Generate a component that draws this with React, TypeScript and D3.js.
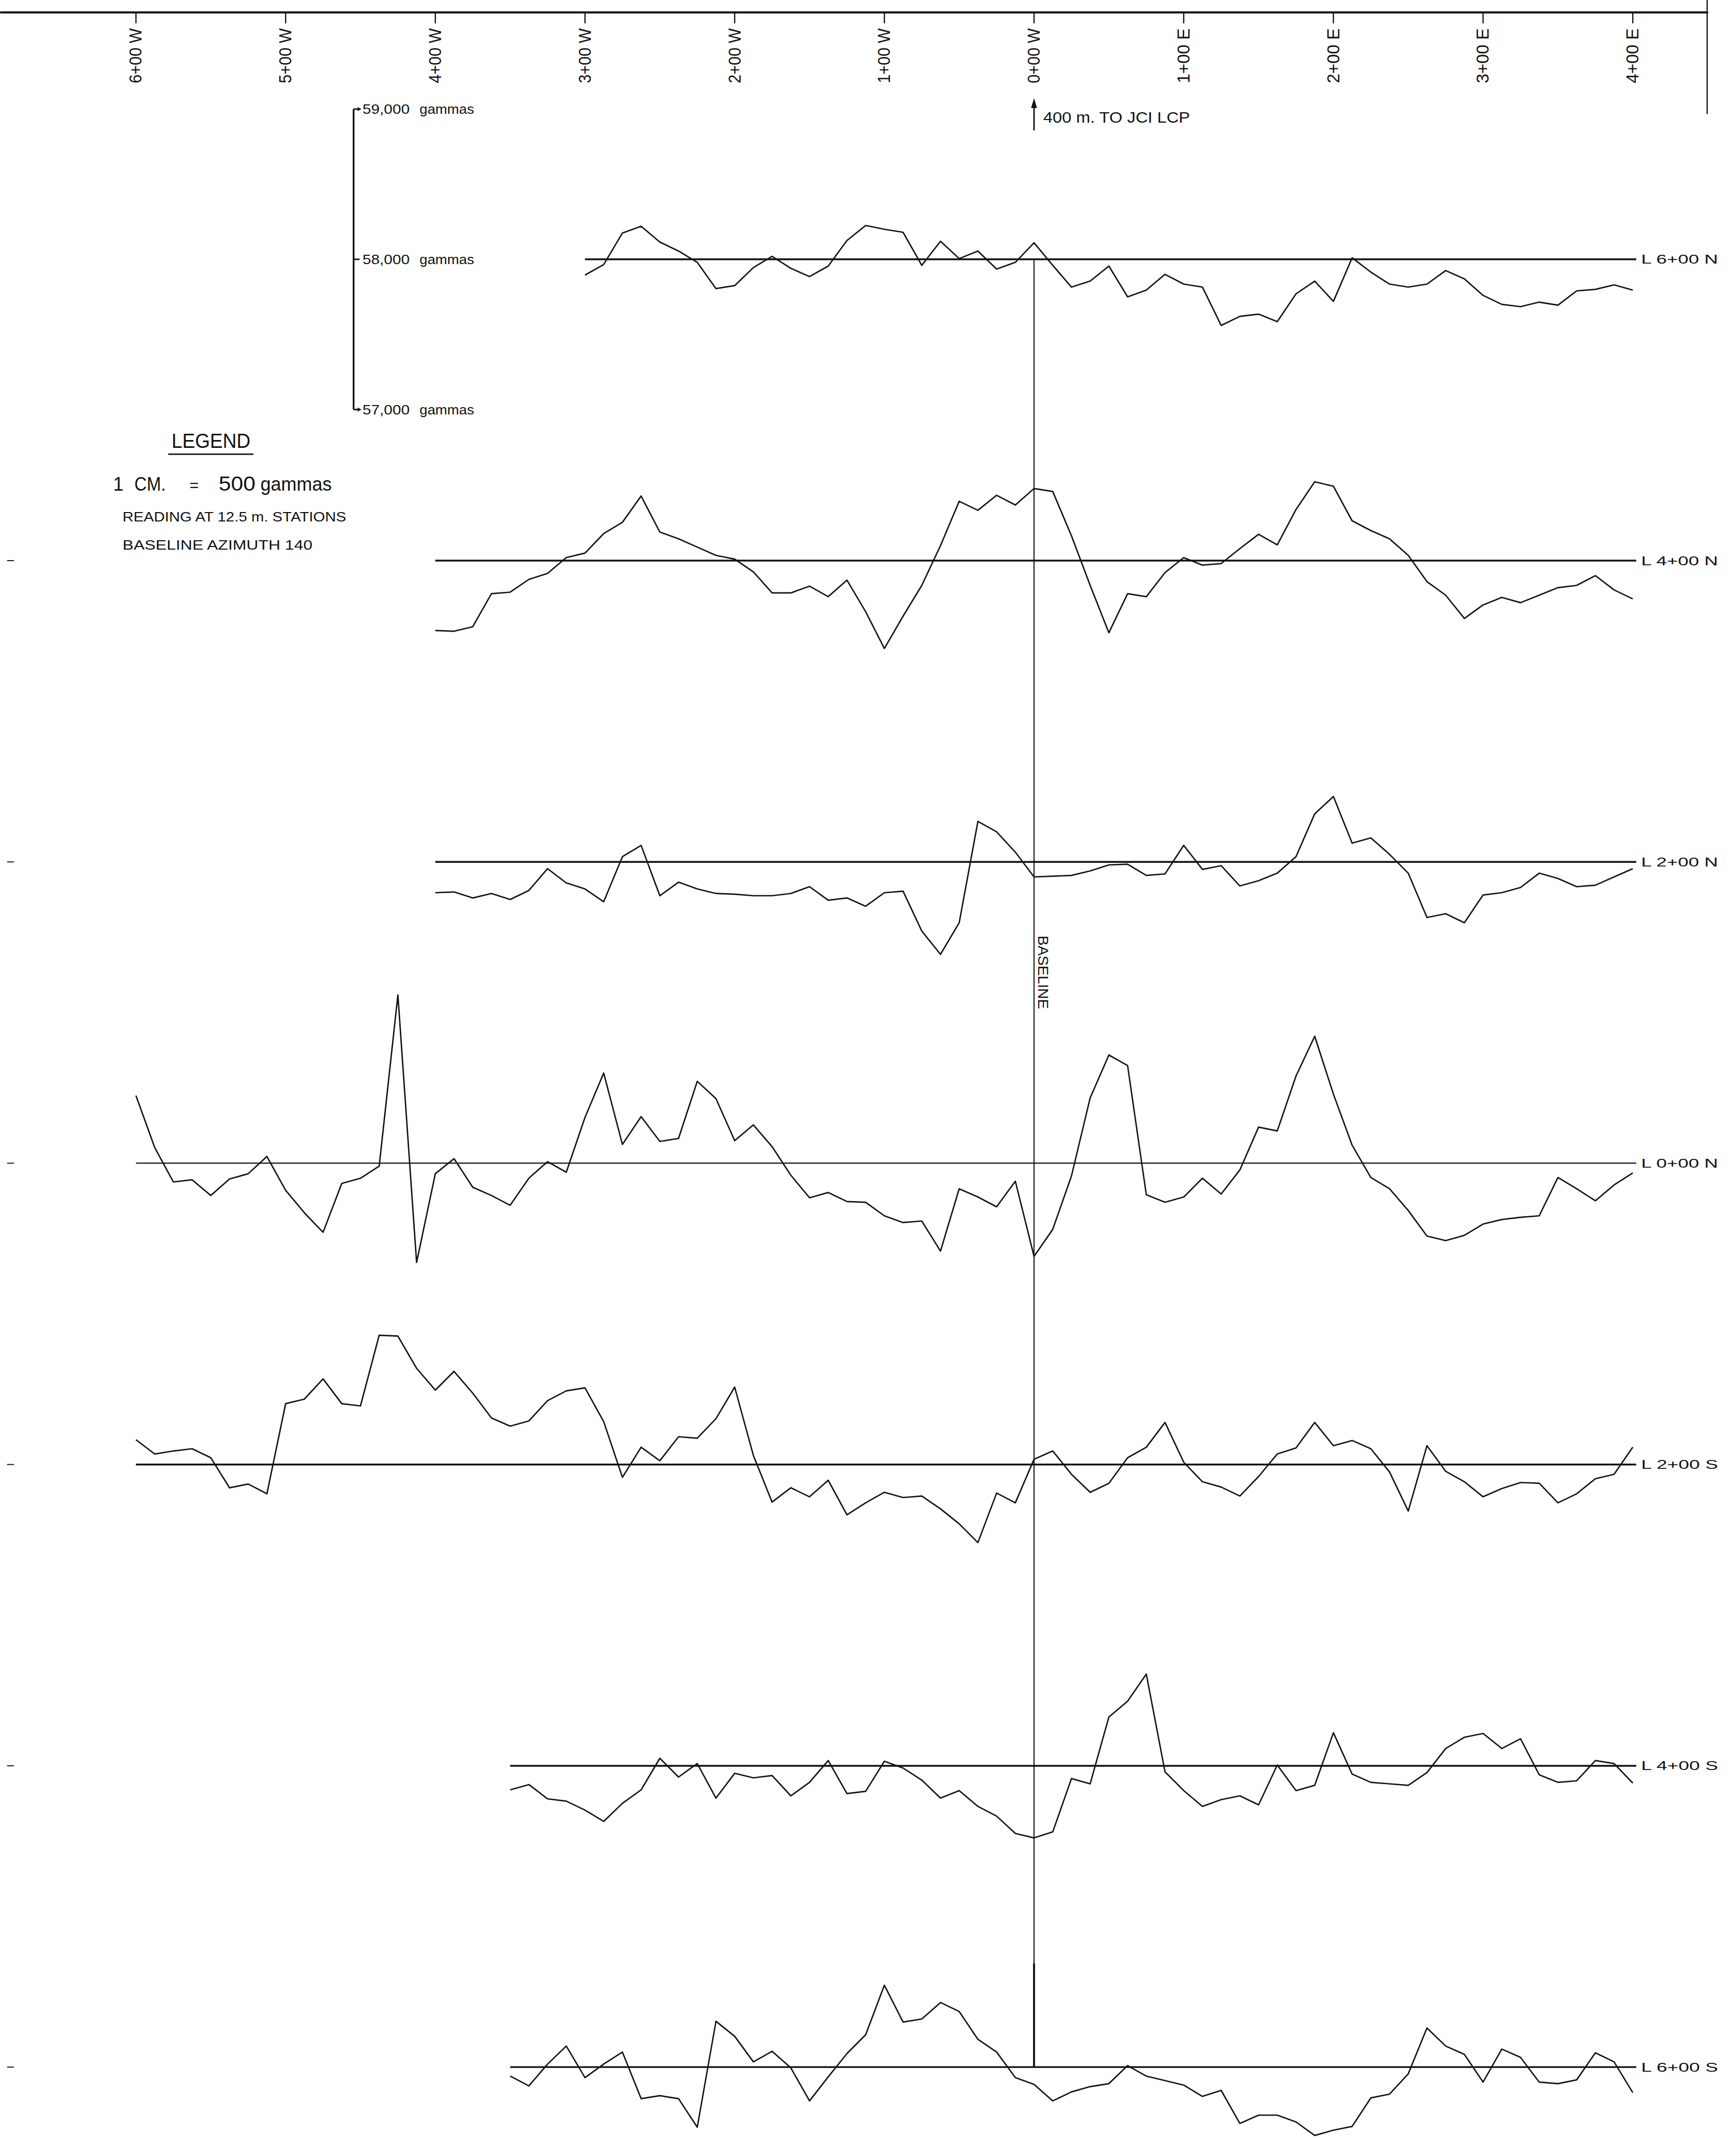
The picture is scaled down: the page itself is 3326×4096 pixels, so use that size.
import * as d3 from "d3";

// station chainage in metres, west negative; readings every 12.5 m
const STEP = 12.5;
const TICK_STATIONS = [-600, -500, -400, -300, -200, -100, 0, 100, 200, 300, 400];
const TICK_LABELS = ["6+00 W", "5+00 W", "4+00 W", "3+00 W", "2+00 W", "1+00 W", "0+00 W", "1+00 E", "2+00 E", "3+00 E", "4+00 E"];

const LINE_NAMES = ["L 6+00 N", "L 4+00 N", "L 2+00 N", "L 0+00 N", "L 2+00 S", "L 4+00 S", "L 6+00 S"];
const LINE_STARTS = [-300, -400, -400, -600, -600, -350, -350];

// total field, gammas (baseline of each line = 58,000)
const L6N = [57895, 57965, 58175, 58220, 58115, 58055, 57980, 57805, 57825, 57945, 58020, 57940, 57885, 57955, 58125, 58225, 58200, 58180, 57960, 58120, 58005, 58055, 57935, 57980, 58110, 57960, 57815, 57855, 57955, 57750, 57795, 57900, 57835, 57815, 57560, 57620, 57635, 57585, 57770, 57855, 57720, 58010, 57915, 57835, 57815, 57835, 57925, 57870, 57760, 57700, 57685, 57715, 57695, 57790, 57800, 57830, 57795];
const L4N = [57535, 57530, 57560, 57780, 57790, 57875, 57915, 58020, 58050, 58180, 58255, 58430, 58190, 58145, 58090, 58035, 58010, 57925, 57785, 57785, 57830, 57760, 57870, 57660, 57415, 57630, 57835, 58100, 58395, 58335, 58435, 58370, 58480, 58460, 58165, 57835, 57520, 57780, 57760, 57920, 58020, 57970, 57980, 58080, 58175, 58105, 58340, 58525, 58495, 58265, 58200, 58145, 58035, 57860, 57770, 57615, 57705, 57755, 57720, 57770, 57820, 57835, 57900, 57805, 57745];
const L2N = [57795, 57800, 57760, 57790, 57750, 57810, 57955, 57860, 57820, 57735, 58035, 58110, 57775, 57865, 57820, 57790, 57785, 57775, 57775, 57790, 57835, 57745, 57760, 57705, 57795, 57805, 57540, 57385, 57595, 58270, 58200, 58065, 57900, 57905, 57910, 57940, 57980, 57985, 57910, 57920, 58110, 57950, 57975, 57840, 57875, 57925, 58035, 58320, 58435, 58125, 58160, 58050, 57925, 57630, 57655, 57595, 57780, 57795, 57830, 57925, 57890, 57835, 57845, 57900, 57955];
const L0N = [58450, 58105, 57875, 57890, 57785, 57895, 57930, 58045, 57820, 57670, 57540, 57865, 57900, 57980, 59120, 57340, 57930, 58030, 57840, 57785, 57720, 57900, 58010, 57940, 58305, 58600, 58125, 58310, 58145, 58165, 58545, 58430, 58150, 58255, 58110, 57920, 57770, 57805, 57745, 57740, 57650, 57605, 57615, 57415, 57830, 57775, 57710, 57880, 57380, 57560, 57915, 58435, 58720, 58650, 57790, 57740, 57775, 57900, 57795, 57955, 58240, 58215, 58580, 58845, 58460, 58120, 57905, 57830, 57685, 57515, 57485, 57520, 57595, 57625, 57640, 57650, 57905, 57830, 57750, 57855, 57935];
const L2S = [58165, 58070, 58090, 58105, 58045, 57845, 57870, 57805, 58405, 58435, 58570, 58405, 58390, 58860, 58855, 58640, 58495, 58620, 58475, 58310, 58255, 58290, 58425, 58490, 58510, 58285, 57915, 58115, 58025, 58185, 58175, 58305, 58515, 58060, 57750, 57845, 57785, 57895, 57665, 57745, 57815, 57780, 57790, 57705, 57605, 57480, 57810, 57745, 58035, 58090, 57935, 57815, 57875, 58045, 58115, 58280, 58015, 57885, 57850, 57790, 57920, 58070, 58110, 58280, 58125, 58160, 58105, 57950, 57690, 58125, 57955, 57885, 57785, 57840, 57880, 57875, 57745, 57805, 57905, 57935, 58115];
const L4S = [57840, 57875, 57780, 57765, 57705, 57630, 57750, 57840, 58050, 57925, 58015, 57785, 57950, 57920, 57935, 57800, 57890, 58035, 57815, 57830, 58030, 57985, 57905, 57785, 57835, 57730, 57665, 57550, 57520, 57560, 57915, 57880, 58325, 58430, 58610, 57960, 57835, 57730, 57775, 57800, 57740, 58005, 57835, 57870, 58220, 57945, 57890, 57880, 57870, 57955, 58115, 58190, 58215, 58115, 58180, 57940, 57890, 57900, 58035, 58015, 57885];
const L6S = [57940, 57875, 58020, 58140, 57930, 58020, 58100, 57790, 57810, 57790, 57600, 58305, 58205, 58035, 58105, 57995, 57775, 57935, 58090, 58215, 58545, 58300, 58320, 58430, 58370, 58185, 58100, 57930, 57885, 57775, 57835, 57870, 57890, 58010, 57940, 57910, 57880, 57805, 57845, 57625, 57680, 57680, 57635, 57545, 57580, 57605, 57795, 57820, 57955, 58260, 58140, 58085, 57900, 58120, 58065, 57900, 57890, 57915, 58095, 58035, 57830];

const LINE_VALUES = [L6N, L4N, L2N, L0N, L2S, L4S, L6S];

const SCALE_VALUES = [59000, 58000, 57000];
const SCALE_LABELS = ["59,000", "58,000", "57,000"];

const W = 3501;
const H = 4312;
const FONT = "'Liberation Sans', Arial, sans-serif";
const INK = "#111";

export default function App() {
  const x = d3.scaleLinear().domain([-600, 400]).range([274, 3293]);
  const lineY = d3.scalePoint<string>().domain(LINE_NAMES).range([523, 4169]);
  // gamma offset from a line's baseline (58,000 on the baseline)
  const g = d3.scaleLinear().domain([57000, 59000]).range([303, -303]);

  const paths = LINE_NAMES.map((name, li) => {
    const base = lineY(name) ?? 0;
    const start = LINE_STARTS[li];
    const gen = d3
      .line<number>()
      .x((_, i) => x(start + i * STEP))
      .y((v) => base + g(v))
      .curve(d3.curveLinear);
    return { name, base, start, d: gen(LINE_VALUES[li]) ?? "" };
  });

  const x0 = x(0);
  const scaleX = 713;
  const scaleBase = lineY(LINE_NAMES[0]) ?? 0;

  return (
    <svg
      width={3326}
      height={4096}
      viewBox={`0 0 ${W} ${H}`}
      style={{ position: "absolute", left: 0, top: 0, background: "#fff", display: "block" }}
      fontFamily={FONT}
    >
      <rect width={W} height={H} fill="#fff" />

      {/* sheet edge */}
      <line x1={0} x2={3445} y1={25} y2={25} stroke={INK} strokeWidth={4} />
      <line x1={3443} x2={3443} y1={0} y2={230} stroke={INK} strokeWidth={2.5} />

      {/* station ticks */}
      {TICK_STATIONS.map((s, i) => (
        <g key={s}>
          <line x1={x(s)} x2={x(s)} y1={25} y2={47} stroke={INK} strokeWidth={2.5} />
          <text
            transform={`translate(${x(s)},168) rotate(-90)`}
            textAnchor="start"
            dominantBaseline="central"
            fontSize={34}
            textLength={111}
            lengthAdjust="spacingAndGlyphs"
            fill={INK}
          >
            {TICK_LABELS[i]}
          </text>
        </g>
      ))}

      {/* direction note */}
      <line x1={x0} x2={x0} y1={263} y2={212} stroke={INK} strokeWidth={3} />
      <path d={`M${x0},198 L${x0 - 6},218 L${x0 + 6},218 Z`} fill={INK} />
      <text x={2104} y={247} fontSize={31} fill={INK} textLength={296} lengthAdjust="spacingAndGlyphs">
        400 m. TO JCI LCP
      </text>

      {/* gamma scale bar */}
      <line
        x1={scaleX}
        x2={scaleX}
        y1={scaleBase + g(59000)}
        y2={scaleBase + g(57000)}
        stroke={INK}
        strokeWidth={3.5}
      />
      {SCALE_VALUES.map((v, i) => {
        const yy = scaleBase + g(v);
        return (
          <g key={v}>
            <line x1={scaleX} x2={scaleX + 12} y1={yy} y2={yy} stroke={INK} strokeWidth={3} />
            {i !== 1 && <path d={`M${scaleX + 16},${yy} L${scaleX + 8},${yy - 4} L${scaleX + 8},${yy + 4} Z`} fill={INK} />}
            <text x={scaleX + 18} y={yy + 10} fontSize={27} fill={INK} textLength={95} lengthAdjust="spacingAndGlyphs">
              {SCALE_LABELS[i]}
            </text>
            <text x={scaleX + 133} y={yy + 10} fontSize={27} fill={INK} textLength={110} lengthAdjust="spacingAndGlyphs">
              gammas
            </text>
          </g>
        );
      })}

      {/* legend */}
      <text x={346} y={903} fontSize={40} fill={INK} textLength={159} lengthAdjust="spacingAndGlyphs">
        LEGEND
      </text>
      <line x1={339} x2={511} y1={916} y2={916} stroke={INK} strokeWidth={3} />
      <text x={228} y={990} fontSize={38} fill={INK}>1</text>
      <text x={271} y={990} fontSize={38} fill={INK} textLength={63} lengthAdjust="spacingAndGlyphs">CM.</text>
      <text x={382} y={990} fontSize={32} fill={INK}>=</text>
      <text x={441} y={990} fontSize={40} fill={INK} textLength={74} lengthAdjust="spacingAndGlyphs">500</text>
      <text x={525} y={990} fontSize={38} fill={INK} textLength={144} lengthAdjust="spacingAndGlyphs">gammas</text>
      <text x={247} y={1052} fontSize={27} fill={INK} textLength={451} lengthAdjust="spacingAndGlyphs">
        READING AT 12.5 m. STATIONS
      </text>
      <text x={247} y={1109} fontSize={27} fill={INK} textLength={383} lengthAdjust="spacingAndGlyphs">
        BASELINE AZIMUTH 140
      </text>

      {/* survey baseline */}
      <line x1={x0} x2={x0} y1={paths[0].base} y2={paths[6].base} stroke={INK} strokeWidth={2.2} />
      <line x1={x0} x2={x0} y1={3960} y2={paths[6].base} stroke={INK} strokeWidth={4} />
      <text
        transform={`translate(2104,1887) rotate(90)`}
        textAnchor="start"
        dominantBaseline="central"
        fontSize={30}
        textLength={148}
        lengthAdjust="spacingAndGlyphs"
        fill={INK}
      >
        BASELINE
      </text>

      {/* profiles */}
      {paths.map((p, li) => (
        <g key={p.name}>
          <line
            x1={x(p.start)}
            x2={3300}
            y1={p.base}
            y2={p.base}
            stroke={INK}
            strokeWidth={li === 3 ? 2.4 : 3.6}
          />
          {li > 0 && <line x1={14} x2={28} y1={p.base} y2={p.base} stroke={INK} strokeWidth={2} />}
          <path d={p.d} fill="none" stroke={INK} strokeWidth={2.8} strokeLinejoin="round" />
          <text
            x={3310}
            y={p.base}
            dominantBaseline="central"
            fontSize={26}
            fill={INK}
            textLength={155}
            lengthAdjust="spacingAndGlyphs"
          >
            {p.name}
          </text>
        </g>
      ))}
    </svg>
  );
}
